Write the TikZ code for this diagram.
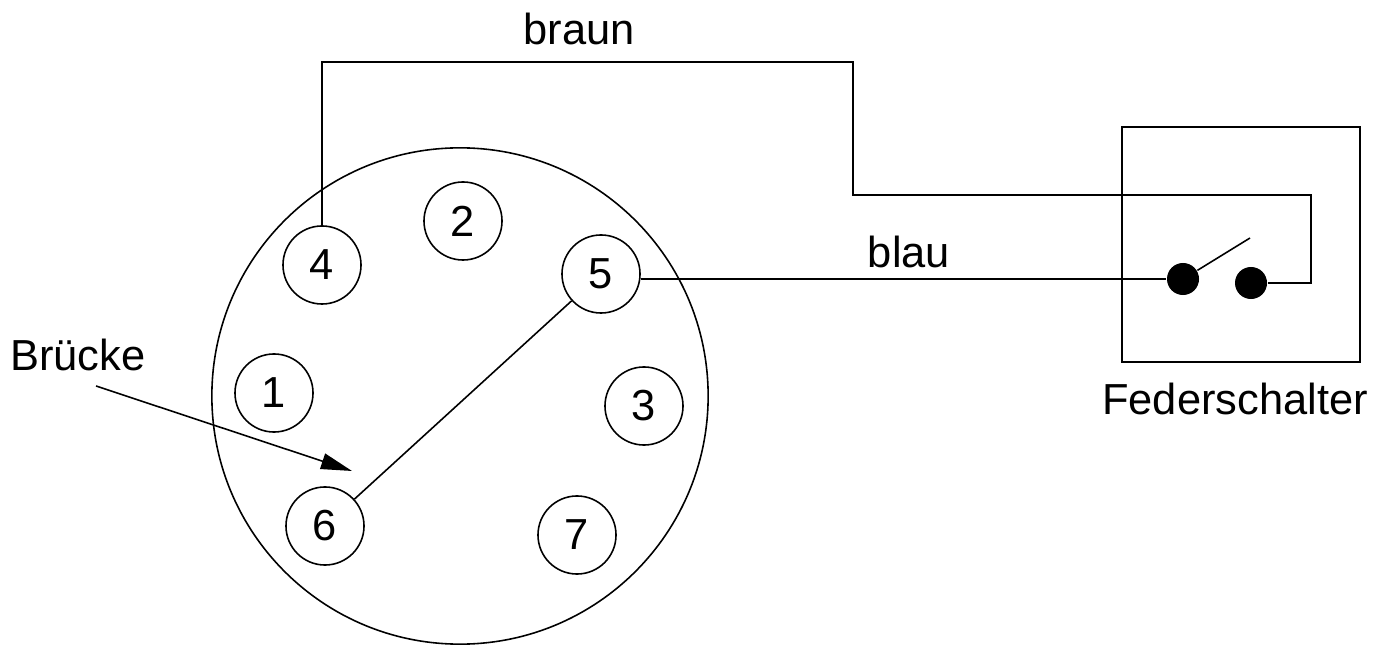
\documentclass[tikz,border=0pt]{standalone}
\usepackage{fontspec}
\setmainfont{Liberation Sans}
\usepackage{tikz}
\usetikzlibrary{shapes,arrows.meta}
\usetikzlibrary{calc}
\usetikzlibrary{positioning}

\begin{document}
\begin{tikzpicture}[x=0.01cm, y=-0.01cm, line width=0.45pt,
	pin_node/.style={circle,draw,minimum size=0.78cm,inner sep=0pt,font=\fontsize{12.35}{14}\selectfont},
	dot_node/.style={circle,fill=black,minimum size=0.32cm,inner sep=0pt},
	text_node/.style={anchor=base,inner sep=0pt,font=\fontsize{12.35}{14}\selectfont}]
				
				\useasboundingbox (0,0) rectangle (1388,646);
				
				% Stecker
				\node[circle,draw,minimum size=4.96cm,inner sep=0pt] (plug) at (460,396) {};
				\node[pin_node] (1) at (274, 393) {1};
				\node[pin_node] (2) at (463, 221) {2};
				\node[pin_node] (3) at (644, 406) {3};
				\node[pin_node] (4) at (322, 265) {4};
				\node[pin_node] (5) at (601, 274) {5};
				\node[pin_node] (6) at (325, 526) {6};
				\node[pin_node] (7) at (577, 535) {7};
				
				% Federschalter
				\node[draw,minimum width=2.38cm,minimum height=2.35cm,inner sep=0pt] (box) at (1241, 244.5) {};
				\node[dot_node] (d1) at (1183, 279) {};
				\node[dot_node] (d2) at (1251, 283) {};
				\coordinate (lever) at (1250, 238);
				\draw (d1.31) -- (lever);
				
				% Leitungen
				\coordinate (b1) at (853, 62);
				\coordinate (b2) at (1311, 195);
				\draw (4.north) |- (b1) |- (b2) |- (d2.east);
				\draw (5.east |- d1.west) -- (d1.west);
				\draw (5) -- (6);
				
				% Brücke
				\coordinate (arrow_tail) at (96, 386);
				\coordinate (arrow_tip) at (352, 471);
				\draw[-{Triangle[length=0.31cm,width=0.16cm]}] (arrow_tail) -- (arrow_tip);
				
				% Texte
				\node[text_node] (braun) at (579, 45) {braun};
				\node[text_node] (blau) at (909, 268) {blau};
				\node[text_node] (bruecke) at (78, 370) {Brücke};
				\node[text_node] (schalter) at (1235, 415) {Federschalter};
			\end{tikzpicture}
\end{document}
